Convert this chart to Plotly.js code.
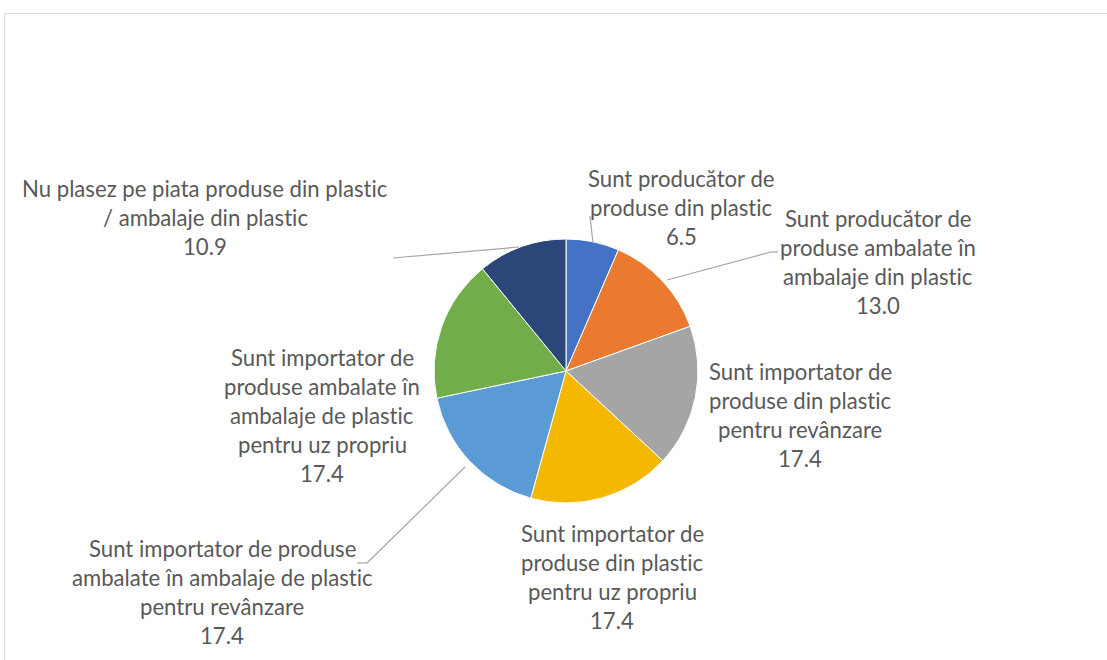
<!DOCTYPE html>
<html><head><meta charset="utf-8">
<script src="https://cdn.plot.ly/plotly-3.0.1.min.js"></script>
<style>html,body{margin:0;padding:0;background:#fff;}#chart{width:1107px;height:660px;}text{font-variant-ligatures:none;font-feature-settings:"liga" 0;}</style>
</head><body><div id="chart"></div>
<script>
// ---- data ----
const categories = [
  "Sunt producător de\nproduse din plastic",
  "Sunt producător de\nproduse ambalate în\nambalaje din plastic",
  "Sunt importator de\nproduse din plastic\npentru revânzare",
  "Sunt importator de\nproduse din plastic\npentru uz propriu",
  "Sunt importator de produse\nambalate în ambalaje de plastic\npentru revânzare",
  "Sunt importator de\nproduse ambalate în\nambalaje de plastic\npentru uz propriu",
  "Nu plasez pe piata produse din plastic\n/ ambalaje din plastic"
];
const values = [6.5, 13.0, 17.4, 17.4, 17.4, 17.4, 10.9];
const colors = ["#4472C4", "#E97A30", "#A5A5A5", "#F4B800", "#5B9BD5", "#71AD48", "#2B4779"];

// ---- layout helpers (pixel positions of label blocks: center x, first-line center y) ----
const W = 1107, H = 660;
const labelPos = [[681, 178], [878, 218], [800, 371], [612, 533], [222, 548], [322, 357], [205, 188]];
const lineGap = 29;
const px = x => x / W, py = y => 1 - y / H;

// font sizing to match reference text width
const fontFam = "Lato, 'Open Sans', sans-serif";
const cv = document.createElement('canvas').getContext('2d');
cv.font = "100px Lato";
const wRef = cv.measureText("Nu plasez pe piata produse din plastic").width;
let fs = 100 * 366 / wRef;
if (!isFinite(fs) || fs < 12 || fs > 24) fs = 18;

const annotations = [];
categories.forEach((c, i) => {
  const lines = c.split("\n").concat([values[i].toFixed(1)]);
  lines.forEach((t, j) => {
    annotations.push({
      xref: 'paper', yref: 'paper',
      x: px(labelPos[i][0]), y: py(labelPos[i][1] + j * lineGap),
      xanchor: 'center', yanchor: 'middle',
      text: t, showarrow: false,
      font: {family: fontFam, size: fs, color: '#595959'}
    });
  });
});

// leader lines (pixel polylines)
const leaders = [
  [[590, 216], [593, 243]],
  [[778, 252], [771, 252], [667, 280]],
  [[393, 258], [519, 247]],
  [[357, 563], [367, 563], [465, 467]]
];
const shapes = [{
  type: 'rect', xref: 'paper', yref: 'paper',
  x0: px(4.5), y0: py(13.5), x1: px(1115), y1: py(670),
  line: {color: '#D9D9D9', width: 1}, fillcolor: 'rgba(0,0,0,0)'
}];
leaders.forEach(pts => {
  for (let k = 0; k < pts.length - 1; k++) {
    shapes.push({
      type: 'line', xref: 'paper', yref: 'paper',
      x0: px(pts[k][0]), y0: py(pts[k][1]), x1: px(pts[k + 1][0]), y1: py(pts[k + 1][1]),
      line: {color: '#A6A6A6', width: 1.2}
    });
  }
});

// pie geometry
const cx = 566, cy = 371, r = 132;

const trace = {
  type: 'pie',
  labels: categories.map(c => c.replace(/\n/g, ' ')),
  values: values,
  sort: false,
  direction: 'clockwise',
  rotation: 0,
  textinfo: 'none',
  hoverinfo: 'label+value',
  marker: {colors: colors, line: {color: '#FFFFFF', width: 1}},
  domain: {x: [px(cx - r), px(cx + r)], y: [py(cy + r), py(cy - r)]},
  showlegend: false
};

Plotly.newPlot('chart', [trace], {
  width: W, height: H,
  margin: {l: 0, r: 0, t: 0, b: 0},
  paper_bgcolor: '#FFFFFF',
  showlegend: false,
  annotations: annotations,
  shapes: shapes
}, {displayModeBar: false, staticPlot: true});
</script>
</body></html>
